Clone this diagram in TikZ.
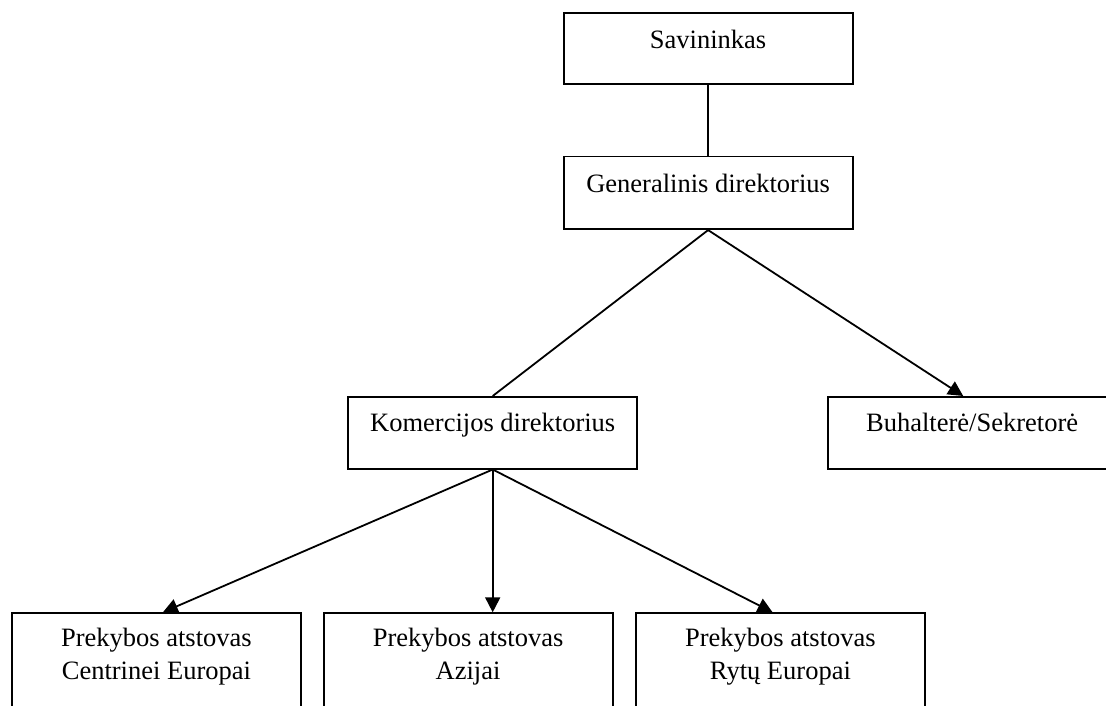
\documentclass[tikz,border=0pt]{standalone}
\usepackage{fontspec}
\setmainfont{Liberation Serif}
\usetikzlibrary{arrows.meta}
\tikzset{
  unit/.style={draw=black, line width=1.8pt, minimum width=289pt, inner sep=0pt},
  label/.style={anchor=base, align=center, inner sep=0pt,
    font=\fontsize{26.5}{32.3}\selectfont},
  link/.style={line width=1.8pt},
  arrowlink/.style={line width=1.8pt, -{Triangle[length=15pt,width=15pt]}}
}
\begin{document}
\begin{tikzpicture}[x=1pt,y=-1pt]
  \clip (0,0) rectangle (1106,706);
  \fill[white] (0,0) rectangle (1106,706);

  % boxes, with their text set near the top edge
  \node[unit, minimum height=71pt, anchor=north west] (own) at (562.7,12.3) {};
  \node[label] (ownt) at ([yshift=-36pt]own.north) {Savininkas};

  \node[unit, minimum height=72.6pt, anchor=north west] (gen) at (562.7,155.7) {};
  \node[label] (gent) at ([yshift=-37pt]gen.north) {Generalinis direktorius};

  \node[unit, minimum height=71.7pt, anchor=north west] (kom) at (347.3,396) {};
  \node[label] (komt) at ([yshift=-35.7pt]kom.north) {Komercijos direktorius};

  \node[unit, minimum height=71.7pt, anchor=north west] (buh) at (826.7,396) {};
  \node[label] (buht) at ([yshift=-35.7pt]buh.north) {Buhalterė/Sekretorė};

  % sales representatives (two-line labels, anchored on the last baseline)
  \node[unit, minimum height=110pt, anchor=north west] (ce) at (11,612.3) {};
  \node[label] (cet) at ([yshift=-66.7pt]ce.north) {Prekybos atstovas\\Centrinei Europai};

  \node[unit, minimum height=110pt, anchor=north west] (az) at (322.7,612.3) {};
  \node[label] (azt) at ([yshift=-66.7pt]az.north) {Prekybos atstovas\\Azijai};

  \node[unit, minimum height=110pt, anchor=north west] (re) at (635,612.3) {};
  \node[label] (ret) at ([yshift=-66.7pt]re.north) {Prekybos atstovas\\Rytų Europai};

  % connectors
  \draw[link] (own.south) -- (gen.north);
  \draw[link] (gen.south) -- (kom.north);
  \draw[arrowlink] (gen.south) -- ([xshift=-8.9pt]buh.north);
  \draw[arrowlink] (kom.south) -- ([xshift=6.5pt]ce.north);
  \draw[arrowlink] (kom.south) -- (kom.south |- az.north);
  \draw[arrowlink] (kom.south) -- ([xshift=-7.8pt]re.north);
\end{tikzpicture}
\end{document}
